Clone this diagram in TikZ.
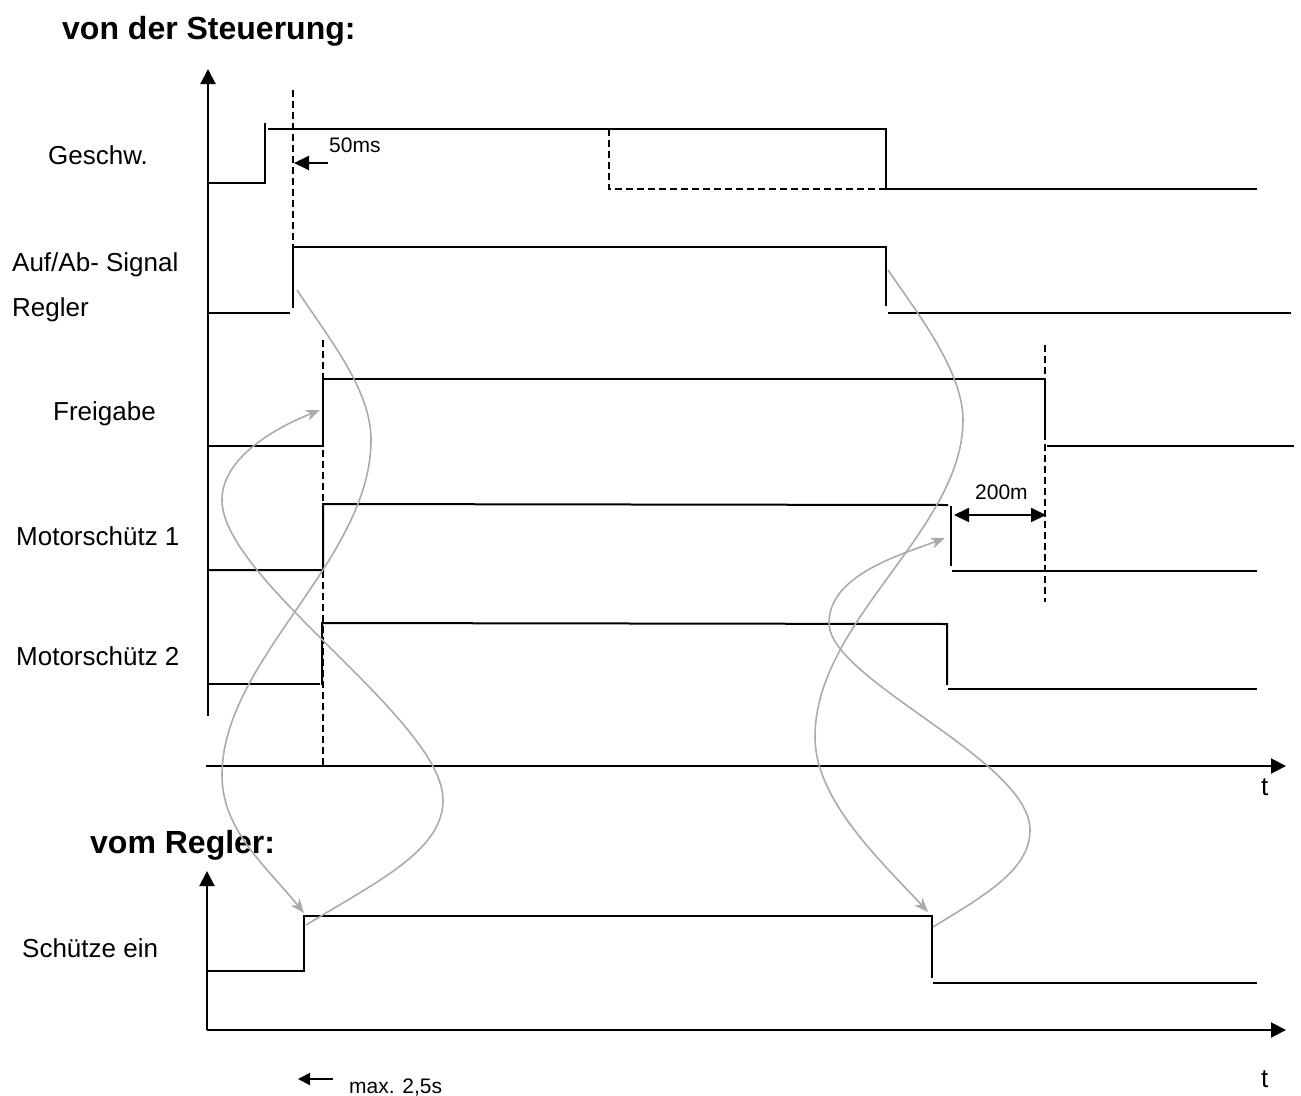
\documentclass[tikz,border=0pt]{standalone}
\usepackage{fontspec}
\setmainfont{Liberation Sans}
\usetikzlibrary{arrows.meta}
\begin{document}
\begin{tikzpicture}[x=1pt,y=-1pt,
  sig/.style={line width=2pt},
  axisline/.style={line width=2pt,-{Triangle[length=15pt,width=15pt]}},
  dsh/.style={line width=1.7pt,dash pattern=on 7pt off 4pt},
  cur/.style={draw=black!33,line width=1.6pt},
  curarrow/.style={cur,-{Stealth[length=14pt,width=11pt,inset=4pt]}},
  lbl/.style={anchor=base west,inner sep=0pt,font=\fontsize{26}{30}\selectfont},
  head/.style={anchor=base west,inner sep=0pt,font=\fontsize{32}{36}\selectfont\bfseries},
  small/.style={anchor=base west,inner sep=0pt,font=\fontsize{21}{25}\selectfont},
  dimarrow/.style={line width=2pt,-{Triangle[length=15pt,width=14pt]}},
  dimboth/.style={line width=2pt,{Triangle[length=15pt,width=14pt]}-{Triangle[length=15pt,width=14pt]}}]
\useasboundingbox[fill=white] (0,0) rectangle (1301,1095);

% headings and labels
\node[head] (h1) at (62,39) {von der Steuerung:};
\node[head] (h2) at (90,853) {vom Regler:};
\node[lbl] (l1) at (48,164) {Geschw.};
\node[lbl] (l2) at (12,271) {Auf/Ab- Signal};
\node[lbl] (l2b) at (12,316) {Regler};
\node[lbl] (l3) at (53,420) {Freigabe};
\node[lbl] (l4) at (16,545) {Motorschütz 1};
\node[lbl] (l5) at (16,665) {Motorschütz 2};
\node[lbl] (l6) at (22,957) {Schütze ein};
\node[lbl] (t1) at (1261,795) {t};
\node[lbl] (t2) at (1261,1087) {t};
\node[small] (ms50) at (329,152) {50ms};
\node[small] (ms200) at (975,499) {200m};
\node[small] (max) at (349,1093) {max. 2,5s};

% axes
\coordinate (yA0) at (208,716); \coordinate (yA1) at (208,69);
\coordinate (xA0) at (206,766); \coordinate (xA1) at (1286,766);
\coordinate (yB0) at (207,1030); \coordinate (yB1) at (207,871);
\coordinate (xB1) at (1286,1030);
\draw[axisline] (yA0) -- (yA1);
\draw[axisline] (xA0) -- (xA1);
\draw[axisline] (yB0) -- (yB1);
\draw[axisline] (yB0) -- (xB1);

% dashed markers
\draw[dsh] (293,90) -- (293,246);
\draw[dsh] (323,340) -- (323,766);
\draw[dsh] (1045,345) -- (1045,602);
\draw[dsh] (609,129) -- (609,189) -- (885,189);

% Geschw.
\draw[sig] (208,183) -- (265,183) -- (265,123);
\draw[sig] (268,129) -- (886,129) -- (886,189) -- (1257,189);
% Auf/Ab
\draw[sig] (208,313) -- (290,313);
\draw[sig] (293,308) -- (293,247) -- (886,247) -- (886,306);
\draw[sig] (888,313) -- (1291,313);
% Freigabe
\draw[sig] (208,446) -- (323,446) -- (323,379) -- (1045,379) -- (1045,440);
\draw[sig] (1047,446) -- (1294,446);
% Motorschuetz 1
\draw[sig] (208,570) -- (323,570) -- (323,504) -- (948,505);
\draw[sig] (951,506) -- (951,566);
\draw[sig] (952,571) -- (1257,571);
% Motorschuetz 2
\draw[sig] (208,684) -- (320,684);
\draw[sig] (322,685) -- (322,623) -- (947,624) -- (947,685);
\draw[sig] (948,689) -- (1257,689);
% Schuetze ein
\draw[sig] (208,971) -- (304,971) -- (304,916) -- (932,916) -- (932,978);
\draw[sig] (933,983) -- (1257,983);

% dimension arrows
\coordinate (d50a) at (328,163); \coordinate (d50b) at (294,163);
\draw[dimarrow] (d50a) -- (d50b);
\coordinate (d200a) at (954,515); \coordinate (d200b) at (1046,515);
\draw[dimboth] (d200a) -- (d200b);
\coordinate (dmaxa) at (333,1079); \coordinate (dmaxb) at (298,1079);
\draw[line width=2pt,-{Triangle[length=12pt,width=12pt]}] (dmaxa) -- (dmaxb);

% gray causal curves
\coordinate (c1s) at (297,290); \coordinate (c1e) at (304,913);
\draw[curarrow] (c1s) .. controls (330,340) and (371,390) .. (371,440)
   .. controls (371,560) and (222,660) .. (222,775)
   .. controls (222,830) and (265,865) .. (c1e);
\coordinate (c2s) at (306,925); \coordinate (c2e) at (320,410);
\draw[curarrow] (c2s) .. controls (380,880) and (443,850) .. (443,800)
   .. controls (443,720) and (222,580) .. (222,500)
   .. controls (222,460) and (270,430) .. (c2e);
\coordinate (c3s) at (888,270); \coordinate (c3e) at (928,912);
\draw[curarrow] (c3s) .. controls (915,310) and (963,370) .. (963,420)
   .. controls (963,530) and (815,620) .. (815,737)
   .. controls (815,800) and (880,860) .. (c3e);
\coordinate (c4s) at (933,927); \coordinate (c4e) at (945,538);
\draw[curarrow] (c4s) .. controls (985,895) and (1030,870) .. (1030,830)
   .. controls (1030,760) and (829,680) .. (829,623)
   .. controls (829,575) and (900,555) .. (c4e);
\end{tikzpicture}
\end{document}
